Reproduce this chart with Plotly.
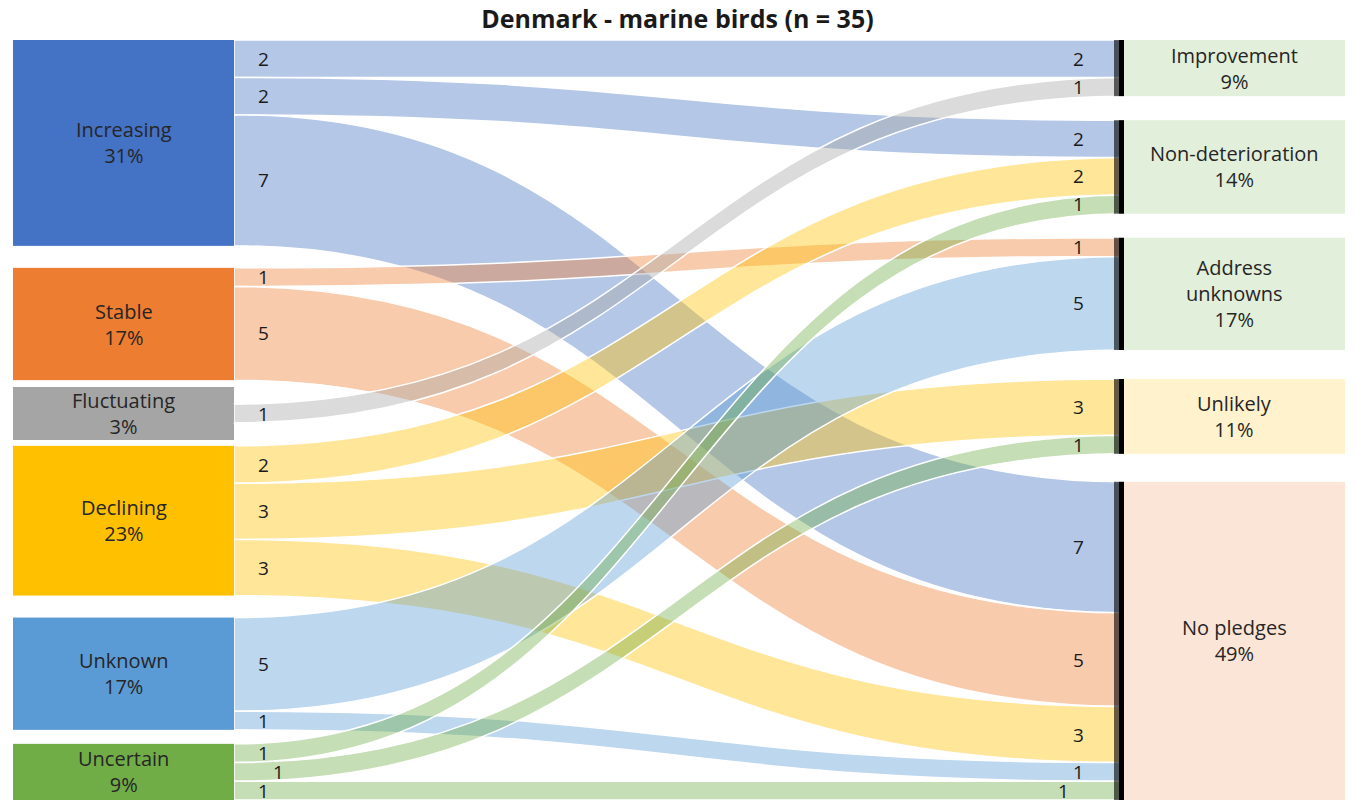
import plotly.graph_objects as go

# ---------------- data ----------------
title_text = "Denmark - marine birds (n = 35)"
left_nodes = ["Increasing", "Stable", "Fluctuating", "Declining", "Unknown", "Uncertain"]
right_nodes = ["Improvement", "Non-deterioration", "Address<br>unknowns", "Unlikely", "No pledges"]

link_source = ["Increasing", "Increasing", "Increasing",
               "Stable", "Stable",
               "Fluctuating",
               "Declining", "Declining", "Declining",
               "Unknown", "Unknown",
               "Uncertain", "Uncertain", "Uncertain"]
link_target = ["Improvement", "Non-deterioration", "No pledges",
               "Address<br>unknowns", "No pledges",
               "Improvement",
               "Non-deterioration", "Unlikely", "No pledges",
               "Address<br>unknowns", "No pledges",
               "Non-deterioration", "Unlikely", "No pledges"]
link_value = [2, 2, 7,
              1, 5,
              1,
              2, 3, 3,
              5, 1,
              1, 1, 1]

# ---------------- styles / layout params ----------------
left_colors = ["#4472C4", "#ED7D31", "#A5A5A5", "#FFC000", "#5B9BD5", "#70AD47"]
right_colors = ["#E2EFDA", "#E2EFDA", "#E2EFDA", "#FFF2CC", "#FBE5D6"]
left_gaps = [0, 22, 24, 23, 22, 14]      # px gap above each left node
right_gaps = [0, 24, 24, 29, 28]         # px gap above each right node
MIN_BOX = 53                             # min height of a label box (px)

FIG_W, FIG_H = 1355, 805
M_L, M_R, M_T, M_B = 13, 10, 40, 0
W = FIG_W - M_L - M_R
H = FIG_H - M_T - M_B
THICK = 221
PAD = 22
FONT = "Open Sans"
LABEL_SIZE = 20
NUM_SIZE = 19
NUM_LINE = 1.38 * NUM_SIZE   # approx. text box height of a number label
STAGGER = 15                 # sideways shift for crowded number labels


def hex_rgba(h, a):
    h = h.lstrip("#")
    return "rgba(%d,%d,%d,%.2f)" % (int(h[0:2], 16), int(h[2:4], 16), int(h[4:6], 16), a)


nodes = left_nodes + right_nodes
n_left = len(left_nodes)
idx = {n: i for i, n in enumerate(nodes)}
src = [idx[s] for s in link_source]
tgt = [idx[t] for t in link_target]

# node totals
totals = [0] * len(nodes)
for s, v in zip(src, link_value):
    totals[s] += v
for t, v in zip(tgt, link_value):
    totals[t] += v
grand = sum(link_value)

# value scale used by plotly's sankey (d3-sankey initializeNodeBreadths)
ky = min((H - (len(left_nodes) - 1) * PAD) / grand,
         (H - (len(right_nodes) - 1) * PAD) / grand)

# node tops (px from top of the plot domain)
tops = [0.0] * len(nodes)
y = 0.0
for i, n in enumerate(left_nodes):
    y += left_gaps[i]
    tops[idx[n]] = y
    y += totals[idx[n]] * ky
y = 0.0
for i, n in enumerate(right_nodes):
    y += right_gaps[i]
    tops[idx[n]] = y
    y += totals[idx[n]] * ky

heights = [totals[i] * ky for i in range(len(nodes))]
centers_x = [THICK / 2 if i < n_left else W - THICK / 2 for i in range(len(nodes))]
node_x = [cx / W for cx in centers_x]
node_y = [(tops[i] + heights[i] / 2) / H for i in range(len(nodes))]

node_colors = left_colors + right_colors
link_colors = [hex_rgba(left_colors[s], 0.4) for s in src]

pct = [round(100 * totals[i] / grand) for i in range(len(nodes))]

fig = go.Figure(go.Sankey(
    arrangement="fixed",
    domain=dict(x=[0, 1], y=[0, 1]),
    node=dict(
        label=["" for _ in nodes],
        customdata=[n.replace("<br>", " ") for n in nodes],
        hovertemplate="%{customdata}: %{value}<extra></extra>",
        x=node_x, y=node_y,
        pad=PAD, thickness=THICK,
        color=node_colors,
        line=dict(width=0, color="white"),
    ),
    link=dict(
        source=src, target=tgt, value=link_value,
        color=link_colors,
        line=dict(width=1.5, color="white"),
    ),
))

annotations = []
shapes = []

# label boxes for nodes too thin to hold their label (left column)
for i in range(n_left):
    if heights[i] < MIN_BOX:
        cy = tops[i] + heights[i] / 2
        shapes.append(dict(type="rect", xref="paper", yref="paper", layer="below",
                           x0=0, x1=THICK / W,
                           y0=1 - (cy + MIN_BOX / 2) / H, y1=1 - (cy - MIN_BOX / 2) / H,
                           fillcolor=node_colors[i], line=dict(width=0)))

# node labels inside boxes
for i, n in enumerate(nodes):
    cy = tops[i] + heights[i] / 2
    annotations.append(dict(
        x=centers_x[i] / W, y=1 - cy / H, xref="paper", yref="paper",
        text="%s<br>%d%%" % (n, pct[i]), showarrow=False,
        font=dict(family=FONT, size=LABEL_SIZE, color="#262626"),
        xanchor="center", yanchor="middle", align="center",
    ))

# link positions (d3-sankey ordering: by the other end's y)
order = list(range(len(link_value)))
src_pos, tgt_pos = {}, {}
for nd in range(len(nodes)):
    off = tops[nd]
    for k in sorted([k for k in order if src[k] == nd], key=lambda k: (tops[tgt[k]], k)):
        w = link_value[k] * ky
        src_pos[k] = off + w / 2
        off += w
    off = tops[nd]
    for k in sorted([k for k in order if tgt[k] == nd], key=lambda k: (tops[src[k]], k)):
        w = link_value[k] * ky
        tgt_pos[k] = off + w / 2
        off += w


def stagger(pos):
    """sideways offset for labels that sit closer than one text line to the previous one"""
    shift = {}
    prev_y, prev_shift = None, 0
    for k in sorted(pos, key=lambda k: pos[k]):
        s = 0
        if prev_y is not None and pos[k] - prev_y < NUM_LINE and prev_shift == 0:
            s = STAGGER
        shift[k] = s
        prev_y, prev_shift = pos[k], s
    return shift


src_shift = stagger(src_pos)
tgt_shift = stagger(tgt_pos)

for k in order:
    annotations.append(dict(
        x=(THICK + 22 + src_shift[k]) / W, y=1 - src_pos[k] / H, xref="paper", yref="paper",
        text=str(link_value[k]), showarrow=False,
        font=dict(family=FONT, size=NUM_SIZE, color="#1a1a1a"),
        xanchor="left", yanchor="middle",
    ))
    annotations.append(dict(
        x=(W - THICK - 38 - tgt_shift[k]) / W, y=1 - tgt_pos[k] / H, xref="paper", yref="paper",
        text=str(link_value[k]), showarrow=False,
        font=dict(family=FONT, size=NUM_SIZE, color="#1a1a1a"),
        xanchor="right", yanchor="middle",
    ))

# dark bars at the left edge of the right-hand nodes
for n in right_nodes:
    i = idx[n]
    y_top = 1 - tops[i] / H
    y_bot = 1 - (tops[i] + heights[i]) / H
    shapes.append(dict(type="rect", xref="paper", yref="paper", layer="above",
                       x0=(W - THICK - 10) / W, x1=(W - THICK - 5) / W, y0=y_bot, y1=y_top,
                       fillcolor="rgba(0,0,0,0.6)", line=dict(width=0)))
    shapes.append(dict(type="rect", xref="paper", yref="paper", layer="above",
                       x0=(W - THICK - 5) / W, x1=(W - THICK) / W, y0=y_bot, y1=y_top,
                       fillcolor="black", line=dict(width=0)))

fig.update_layout(
    width=FIG_W, height=FIG_H,
    margin=dict(l=M_L, r=M_R, t=M_T, b=M_B),
    paper_bgcolor="white", plot_bgcolor="white",
    title=dict(text="<b>%s</b>" % title_text, x=0.5, xanchor="center",
               y=1 - 19 / FIG_H, yanchor="middle",
               font=dict(family=FONT, size=25, color="#1a1a1a")),
    annotations=annotations,
    shapes=shapes,
    font=dict(family=FONT),
)

fig.write_html("out.html", config={"displayModeBar": False},
               post_script="document.body.style.margin='0';document.body.style.overflow='hidden';")
